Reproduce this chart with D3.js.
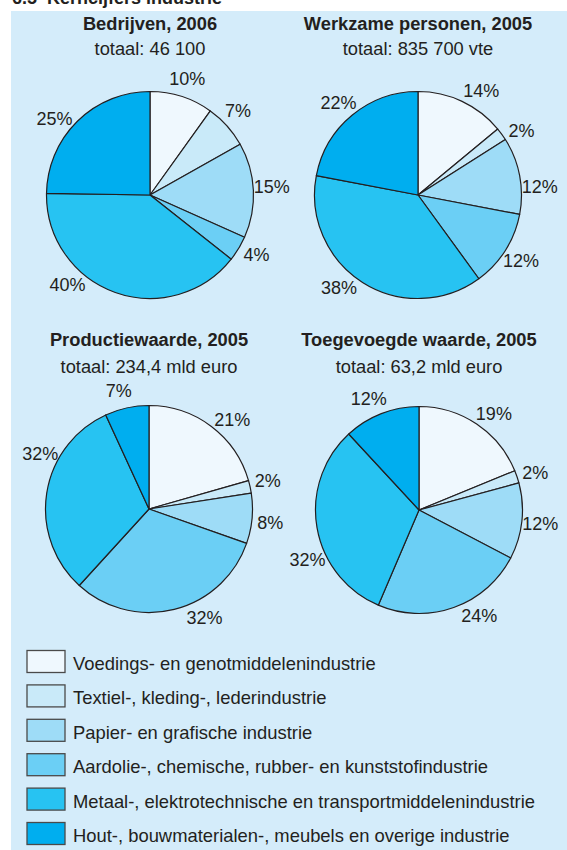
<!DOCTYPE html>
<html><head><meta charset="utf-8">
<script src="https://cdn.jsdelivr.net/npm/d3@7/dist/d3.min.js"></script>
<style>
html,body{margin:0;padding:0;background:#fff;}
svg{display:block;font-family:"Liberation Sans",Arial,Helvetica,sans-serif;}
</style></head>
<body>
<svg id="chart" width="567" height="850"></svg>
<script>
// ---------- data ----------
const categories = [
  "Voedings- en genotmiddelenindustrie",
  "Textiel-, kleding-, lederindustrie",
  "Papier- en grafische industrie",
  "Aardolie-, chemische, rubber- en kunststofindustrie",
  "Metaal-, elektrotechnische en transportmiddelenindustrie",
  "Hout-, bouwmaterialen-, meubels en overige industrie"
];
const chartTitles = ["Bedrijven, 2006", "Werkzame personen, 2005", "Productiewaarde, 2005", "Toegevoegde waarde, 2005"];
const chartTotals = ["totaal: 46 100", "totaal: 835 700 vte", "totaal: 234,4 mld euro", "totaal: 63,2 mld euro"];
const bedrijven2006 = [10, 7, 15, 4, 40, 25];
const werkzamePersonen2005 = [14, 2, 12, 12, 38, 22];
const productiewaarde2005 = [21, 2, 8, 32, 32, 7];
const toegevoegdeWaarde2005 = [19, 2, 12, 24, 32, 12];
const seriesValues = [bedrijven2006, werkzamePersonen2005, productiewaarde2005, toegevoegdeWaarde2005];
const pageTitle = "6.5  Kerncijfers industrie";

// ---------- layout / style ----------
const colors = ["#eff8fe", "#c9eaf9", "#9edcf7", "#6bcff5", "#27c3f2", "#00aeef"];
const textColor = "#231f20";
const W = 567, H = 850;
const centers = [[150, 195], [418, 195], [149, 509], [419, 510]];
const radius = 103.5;
const labelRadius = 122;
// manual label angle nudges (degrees) to mimic the hand-placed labels
const labelNudge = [
  [0, -2, -1, -2, 23, -7],
  [6, 4, 7, 0, 8, -1],
  [6, -1, 1, -13, 18, -2],
  [4, 1, 0, -10, -14, -3]
];

const svg = d3.select("#chart");
svg.append("rect").attr("x", 11).attr("y", 11).attr("width", W - 11).attr("height", H - 11).attr("fill", "#d4ecfa");

svg.append("text").attr("x", 12).attr("y", 4).attr("font-size", 18).attr("font-weight", "bold")
  .attr("fill", textColor).attr("xml:space", "preserve").text(pageTitle);

const color = d3.scaleOrdinal().domain(categories).range(colors);
const pie = d3.pie().sort(null).value(d => d.value);
const arc = d3.arc().innerRadius(0).outerRadius(radius);

seriesValues.forEach((vals, i) => {
  const [cx, cy] = centers[i];
  const g = svg.append("g").attr("transform", `translate(${cx},${cy})`);
  const titleY = i < 2 ? 30 : 346;
  svg.append("text").attr("x", cx).attr("y", titleY).attr("text-anchor", "middle")
    .attr("font-size", 18.3).attr("font-weight", "bold").attr("fill", textColor).text(chartTitles[i]);
  svg.append("text").attr("x", cx).attr("y", titleY + (i < 2 ? 25 : 27)).attr("text-anchor", "middle")
    .attr("font-size", 18.3).attr("fill", textColor).text(chartTotals[i]);

  const data = pie(vals.map((v, k) => ({cat: categories[k], value: v})));
  g.selectAll("path").data(data).join("path")
    .attr("d", arc).attr("fill", d => color(d.data.cat))
    .attr("stroke", "#231f20").attr("stroke-width", 1.2).attr("stroke-linejoin", "round");

  const ang = (d, k) => (d.startAngle + d.endAngle) / 2 + labelNudge[i][k] * Math.PI / 180;
  g.selectAll("text").data(data).join("text")
    .attr("x", (d, k) => labelRadius * Math.sin(ang(d, k)))
    .attr("y", (d, k) => -labelRadius * Math.cos(ang(d, k)))
    .attr("dy", "0.35em").attr("text-anchor", "middle")
    .attr("font-size", 18).attr("fill", textColor)
    .text(d => d.data.value + "%");
});

// legend
const legend = svg.append("g");
const rows = legend.selectAll("g").data(categories).join("g")
  .attr("transform", (d, k) => `translate(27,${650.5 + k * 34.4})`);
rows.append("rect").attr("width", 38).attr("height", 22).attr("fill", d => color(d))
  .attr("stroke", "#4a4a4a").attr("stroke-width", 1.3);
rows.append("text").attr("x", 46).attr("y", 19.5).attr("font-size", 18.4).attr("fill", textColor).text(d => d);
</script>
</body></html>
